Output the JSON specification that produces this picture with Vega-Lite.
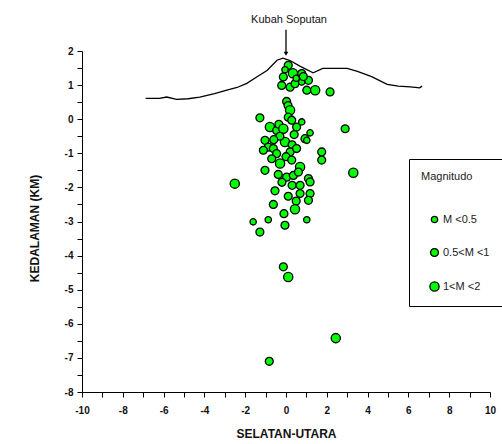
{
  "$schema": "https://vega.github.io/schema/vega-lite/v6.json",
  "width": 408,
  "height": 341,
  "autosize": {"type": "none"},
  "padding": {"left": 82, "top": 51, "right": 12, "bottom": 52},
  "background": "white",
  "config": {
    "view": {"stroke": null},
    "font": "Liberation Sans",
    "axis": {"domainColor": "black", "tickColor": "black", "labelColor": "#111", "titleColor": "#111", "grid": false, "labelFont": "Liberation Sans", "titleFont": "Liberation Sans"}
  },
  "datasets": {
    "quakes": [
      {"x": 0.11, "y": 1.58, "mag": "0.5<M <1"},
      {"x": 0.34, "y": 1.35, "mag": "1<M <2"},
      {"x": 0.77, "y": 1.34, "mag": "0.5<M <1"},
      {"x": -0.13, "y": 1.24, "mag": "0.5<M <1"},
      {"x": 1.1, "y": 1.14, "mag": "0.5<M <1"},
      {"x": -0.21, "y": 0.99, "mag": "0.5<M <1"},
      {"x": 0.2, "y": 0.94, "mag": "0.5<M <1"},
      {"x": 0.44, "y": 1.04, "mag": "0.5<M <1"},
      {"x": 0.77, "y": 1.09, "mag": "M <0.5"},
      {"x": 1.02, "y": 0.85, "mag": "0.5<M <1"},
      {"x": 1.43, "y": 0.85, "mag": "1<M <2"},
      {"x": 2.16, "y": 0.8, "mag": "0.5<M <1"},
      {"x": 0.5, "y": 1.2, "mag": "M <0.5"},
      {"x": -0.05, "y": 1.45, "mag": "M <0.5"},
      {"x": 0.85, "y": 1.25, "mag": "0.5<M <1"},
      {"x": 0.03, "y": 0.52, "mag": "0.5<M <1"},
      {"x": 0.1, "y": 0.4, "mag": "0.5<M <1"},
      {"x": 0.2, "y": 0.26, "mag": "1<M <2"},
      {"x": 0.11, "y": 0.06, "mag": "0.5<M <1"},
      {"x": 0.28, "y": -0.03, "mag": "0.5<M <1"},
      {"x": -1.28, "y": 0.04, "mag": "0.5<M <1"},
      {"x": -0.79, "y": -0.23, "mag": "1<M <2"},
      {"x": -0.46, "y": -0.33, "mag": "0.5<M <1"},
      {"x": -0.35, "y": -0.15, "mag": "0.5<M <1"},
      {"x": -0.13, "y": -0.28, "mag": "1<M <2"},
      {"x": 0.52, "y": -0.23, "mag": "0.5<M <1"},
      {"x": 0.77, "y": -0.08, "mag": "M <0.5"},
      {"x": 1.18, "y": -0.4, "mag": "M <0.5"},
      {"x": 0.93, "y": -0.57, "mag": "0.5<M <1"},
      {"x": 2.9, "y": -0.28, "mag": "0.5<M <1"},
      {"x": -1.03, "y": -0.62, "mag": "0.5<M <1"},
      {"x": -0.05, "y": -0.67, "mag": "1<M <2"},
      {"x": 1.02, "y": -0.62, "mag": "M <0.5"},
      {"x": -0.3, "y": -0.5, "mag": "0.5<M <1"},
      {"x": 0.4, "y": -0.45, "mag": "0.5<M <1"},
      {"x": -0.6, "y": -0.6, "mag": "0.5<M <1"},
      {"x": -0.87, "y": -0.82, "mag": "0.5<M <1"},
      {"x": -1.11, "y": -0.91, "mag": "0.5<M <1"},
      {"x": -0.62, "y": -0.86, "mag": "0.5<M <1"},
      {"x": 0.3, "y": -0.75, "mag": "0.5<M <1"},
      {"x": -0.46, "y": -1.01, "mag": "0.5<M <1"},
      {"x": 0.2, "y": -0.96, "mag": "0.5<M <1"},
      {"x": 0.52, "y": -0.86, "mag": "0.5<M <1"},
      {"x": 1.75, "y": -0.96, "mag": "0.5<M <1"},
      {"x": 1.75, "y": -1.2, "mag": "0.5<M <1"},
      {"x": -0.7, "y": -1.16, "mag": "0.5<M <1"},
      {"x": 0.0, "y": -1.1, "mag": "0.5<M <1"},
      {"x": -0.29, "y": -1.3, "mag": "1<M <2"},
      {"x": 0.28, "y": -1.2, "mag": "0.5<M <1"},
      {"x": 0.69, "y": -1.4, "mag": "1<M <2"},
      {"x": -1.03, "y": -1.5, "mag": "0.5<M <1"},
      {"x": -0.38, "y": -1.62, "mag": "0.5<M <1"},
      {"x": 0.03, "y": -1.7, "mag": "0.5<M <1"},
      {"x": 0.36, "y": -1.65, "mag": "0.5<M <1"},
      {"x": 0.61, "y": -1.55, "mag": "0.5<M <1"},
      {"x": 1.1, "y": -1.74, "mag": "0.5<M <1"},
      {"x": 3.3, "y": -1.57, "mag": "1<M <2"},
      {"x": -2.51, "y": -1.89, "mag": "1<M <2"},
      {"x": -0.2, "y": -1.85, "mag": "0.5<M <1"},
      {"x": 0.3, "y": -1.94, "mag": "0.5<M <1"},
      {"x": 0.69, "y": -1.94, "mag": "0.5<M <1"},
      {"x": 1.18, "y": -1.84, "mag": "0.5<M <1"},
      {"x": -0.54, "y": -2.1, "mag": "0.5<M <1"},
      {"x": 0.11, "y": -2.26, "mag": "0.5<M <1"},
      {"x": 0.69, "y": -2.18, "mag": "0.5<M <1"},
      {"x": 1.18, "y": -2.18, "mag": "0.5<M <1"},
      {"x": 0.5, "y": -2.4, "mag": "0.5<M <1"},
      {"x": -0.62, "y": -2.5, "mag": "0.5<M <1"},
      {"x": 0.44, "y": -2.64, "mag": "1<M <2"},
      {"x": -0.1, "y": -2.77, "mag": "0.5<M <1"},
      {"x": 1.1, "y": -2.38, "mag": "0.5<M <1"},
      {"x": -1.61, "y": -3.01, "mag": "M <0.5"},
      {"x": -0.87, "y": -2.95, "mag": "M <0.5"},
      {"x": -0.05, "y": -3.11, "mag": "0.5<M <1"},
      {"x": 1.02, "y": -2.95, "mag": "M <0.5"},
      {"x": -1.28, "y": -3.31, "mag": "0.5<M <1"},
      {"x": -0.13, "y": -4.33, "mag": "0.5<M <1"},
      {"x": 0.11, "y": -4.63, "mag": "1<M <2"},
      {"x": 2.44, "y": -6.42, "mag": "1<M <2"},
      {"x": -0.82, "y": -7.1, "mag": "0.5<M <1"}
    ],
    "topo": [
      {"x": -6.88, "y": 0.61}, {"x": -6.2, "y": 0.61}, {"x": -5.85, "y": 0.65}, {"x": -5.36, "y": 0.58},
      {"x": -4.8, "y": 0.6}, {"x": -4.23, "y": 0.65}, {"x": -3.5, "y": 0.75}, {"x": -2.9, "y": 0.85},
      {"x": -2.4, "y": 0.93}, {"x": -1.92, "y": 1.05}, {"x": -1.4, "y": 1.25}, {"x": -0.93, "y": 1.43},
      {"x": -0.44, "y": 1.73}, {"x": -0.15, "y": 1.79}, {"x": 0.2, "y": 1.72}, {"x": 0.7, "y": 1.55},
      {"x": 1.33, "y": 1.36}, {"x": 1.8, "y": 1.49}, {"x": 3.0, "y": 1.49}, {"x": 3.5, "y": 1.4},
      {"x": 4.2, "y": 1.25}, {"x": 4.96, "y": 1.02}, {"x": 5.5, "y": 0.97}, {"x": 6.1, "y": 0.95},
      {"x": 6.55, "y": 0.92}, {"x": 6.67, "y": 0.97}
    ],
    "annot": [
      {"x": 0, "y": 2.62, "y2": 1.92, "label": "Kubah Soputan", "labelY": 2.9}
    ]
  },
  "encoding": {
    "x": {
      "field": "x", "type": "quantitative",
      "scale": {"domain": [-10, 10], "nice": false, "zero": false},
      "axis": {
        "title": "SELATAN-UTARA", "titleFontSize": 12, "titleFontWeight": "bold", "titlePadding": 13,
        "values": [-10, -9, -8, -7, -6, -5, -4, -3, -2, -1, 0, 1, 2, 3, 4, 5, 6, 7, 8, 9, 10],
        "labelExpr": "datum.value % 2 === 0 ? '' + datum.value : ''",
        "labelFontSize": 10, "labelFontWeight": "bold", "labelPadding": 8,
        "tickSize": 5, "labelFlush": false, "labelOverlap": false
      }
    },
    "y": {
      "field": "y", "type": "quantitative",
      "scale": {"domain": [-8, 2], "nice": false, "zero": false},
      "axis": {
        "title": "KEDALAMAN (KM)", "titleFontSize": 12, "titleFontWeight": "bold", "titlePadding": 23,
        "titleY": 177, "titleAlign": "center", "titleAnchor": null,
        "values": [-8, -7.5, -7, -6.5, -6, -5.5, -5, -4.5, -4, -3.5, -3, -2.5, -2, -1.5, -1, -0.5, 0, 0.5, 1, 1.5, 2],
        "labelExpr": "datum.value % 1 === 0 ? '' + datum.value : ''",
        "labelFontSize": 10, "labelFontWeight": "bold", "labelPadding": 4,
        "tickSize": 5, "labelFlush": false, "labelOverlap": false
      }
    }
  },
  "layer": [
    {
      "data": {"name": "topo"},
      "mark": {"type": "line", "color": "black", "strokeWidth": 1.3},
      "encoding": {"order": {"field": "x", "type": "quantitative"}}
    },
    {
      "data": {"name": "annot"},
      "mark": {"type": "rule", "color": "black", "strokeWidth": 1.3, "clip": false},
      "encoding": {
        "y2": {"field": "y2"}
      }
    },
    {
      "data": {"name": "annot"},
      "mark": {"type": "point", "shape": "triangle-down", "filled": true, "color": "black", "size": 22, "opacity": 1, "clip": false},
      "encoding": {
        "y": {"field": "y2", "type": "quantitative"}
      }
    },
    {
      "data": {"name": "annot"},
      "mark": {"type": "text", "fontSize": 11, "color": "#111", "font": "Liberation Sans", "clip": false, "dx": 3},
      "encoding": {
        "y": {"field": "labelY", "type": "quantitative"},
        "text": {"field": "label"}
      }
    },
    {
      "data": {"name": "quakes"},
      "mark": {"type": "point", "shape": "circle", "fill": "#00ff00", "fillOpacity": 1, "strokeWidth": 1.3, "opacity": 1},
      "encoding": {
        "stroke": {
          "field": "mag", "type": "ordinal",
          "scale": {"domain": ["M <0.5", "0.5<M <1", "1<M <2"], "range": ["black", "black", "black"]},
          "legend": {"title": "Magnitudo"}
        },
        "size": {
          "field": "mag", "type": "ordinal",
          "scale": {"domain": ["M <0.5", "0.5<M <1", "1<M <2"], "range": [40, 85, 125]},
          "legend": {
            "title": "Magnitudo", "orient": "none", "legendX": 327, "legendY": 108,
            "strokeColor": "black", "padding": 12, "fillColor": "white",
            "titleFontSize": 11, "titleFontWeight": "normal", "titleColor": "#222", "titlePadding": 32,
            "labelFontSize": 11, "labelColor": "#222", "rowPadding": 19, "labelOffset": 3, "symbolOffset": 8,
            "symbolType": "circle", "symbolFillColor": "#00ff00", "symbolStrokeWidth": 1.3, "symbolOpacity": 1
          }
        }
      }
    }
  ]
}
